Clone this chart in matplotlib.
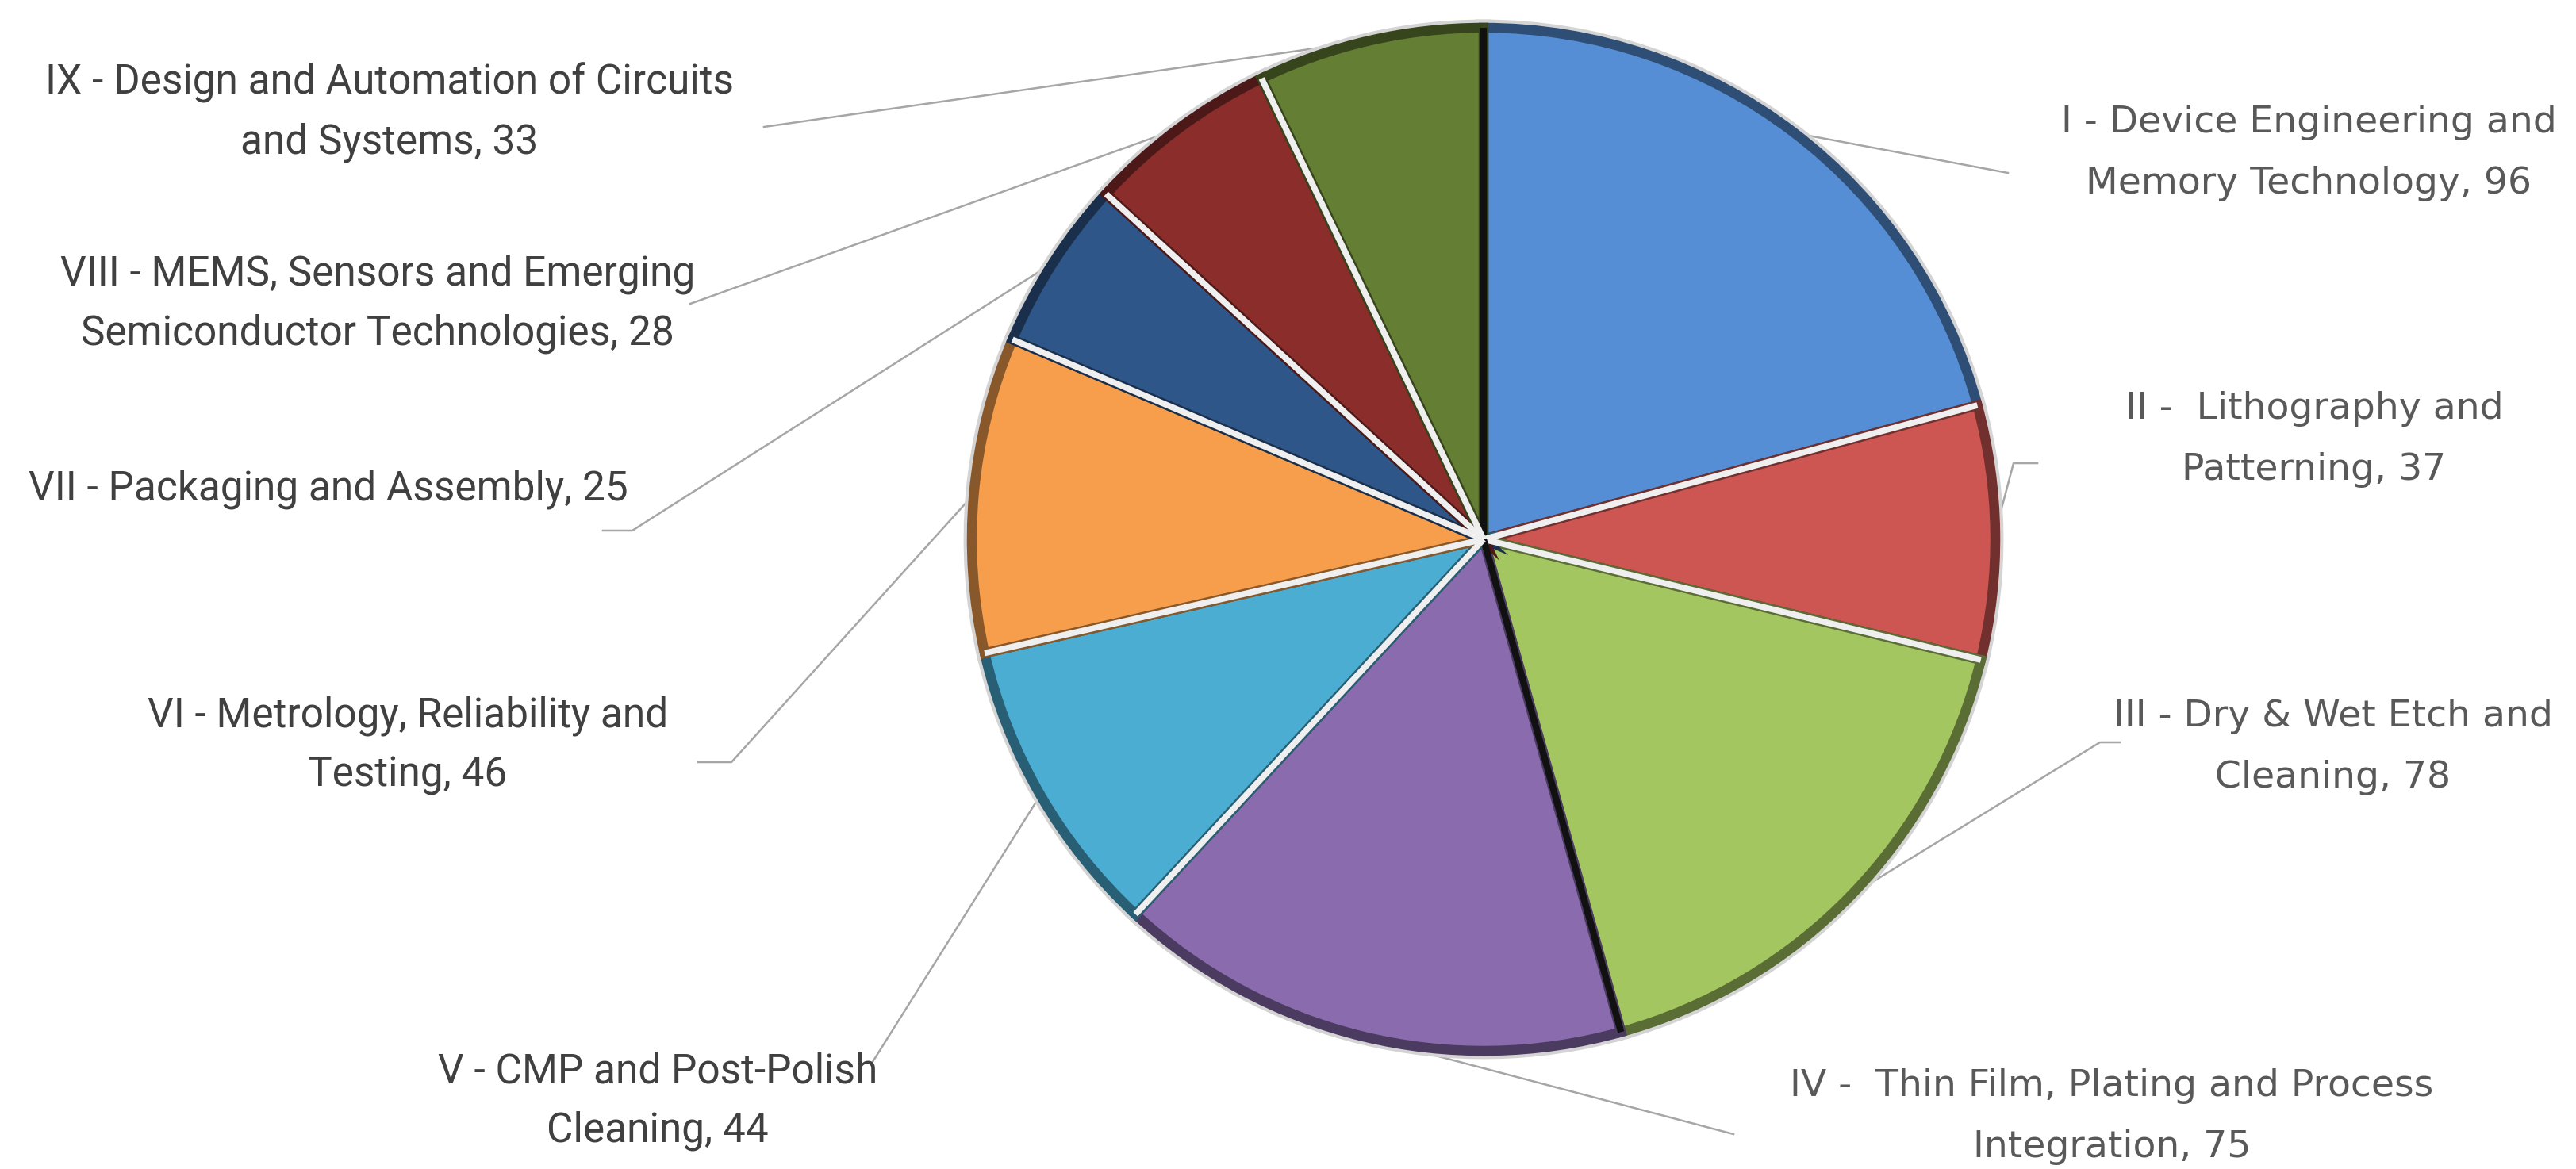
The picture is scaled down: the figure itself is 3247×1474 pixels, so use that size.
import matplotlib
matplotlib.use("Agg")
import numpy as np
from matplotlib import pyplot as plt
from matplotlib import font_manager
from matplotlib import colors as mcolors

# data (clockwise from 12 o'clock)
tracks = ["I - Device Engineering and\nMemory Technology",
          "II -  Lithography and\nPatterning",
          "III - Dry & Wet Etch and\nCleaning",
          "IV -  Thin Film, Plating and Process\nIntegration",
          "V - CMP and Post-Polish\nCleaning",
          "VI - Metrology, Reliability and\nTesting",
          "VII - Packaging and Assembly",
          "VIII - MEMS, Sensors and Emerging\nSemiconductor Technologies",
          "IX - Design and Automation of Circuits\nand Systems"]
papers = [96, 37, 78, 75, 44, 46, 25, 28, 33]
slice_colors = ["#558ED5", "#CD5652", "#A3C660", "#8A6BAE", "#4BADD2",
                "#F79E4C", "#2E5688", "#8A2D2B", "#647E33"]

# label layout, in pixels from top-left of the picture
label_xy = [(2910, 193), (2917, 554), (2941, 942), (2662, 1408), (829, 1389),
            (514, 940), (414, 617), (476, 383), (491, 142)]
elbow_xy = [(2531, 218), (2538, 584), (2647, 936), (2185, 1430), (1098, 1342),
            (922, 961), (797, 669), (870, 383), (963, 160)]
tail_xy = [None, (2568, 584), (2672, 936), None, None,
           (880, 961), (760, 669), None, None]
left_side = [False, False, False, False, True, True, True, True, True]
# slice edges that carry a dark drop shadow instead of a light gap
shadow_edges = [0, 3]

W, H = 3248, 1474
cx, cy, r = 1870, H - 680, 645


def pick_font(names):
    for n in names:
        try:
            font_manager.findfont(n, fallback_to_default=False)
            return n
        except Exception:
            pass
    return "DejaVu Sans"


narrow_font = pick_font(["Liberation Sans Narrow", "Roboto", "Open Sans"])
wide_font = pick_font(["DejaVu Sans"])


def shade(c, f):
    rgb = np.array(mcolors.to_rgb(c))
    return tuple(rgb * f)


fig = plt.figure(figsize=(W / 100, H / 100), dpi=100)
ax = fig.add_axes([0, 0, 1, 1])

# soft grey halo behind the pie
ax.pie(papers, center=(cx, cy), radius=r, startangle=90, counterclock=False,
       colors=["#cfcfcf"] * len(papers),
       wedgeprops=dict(edgecolor="#d4d4d4", linewidth=15), frame=True)

# slices with a darker bevel rim
wedges, _ = ax.pie(papers, center=(cx, cy), radius=r, startangle=90,
                   counterclock=False, colors=slice_colors,
                   wedgeprops=dict(linewidth=9, joinstyle="miter"), frame=True)
for w, c in zip(wedges, slice_colors):
    w.set_edgecolor(shade(c, 0.55))

# light gaps / dark shadows along the slice boundaries
for i, w in enumerate(wedges):
    a = np.deg2rad(w.theta2)
    wx, wy = w.center
    if i in shadow_edges:
        col, lw = "#111111", 6
    else:
        col, lw = "#efefef", 5.5
    ax.plot([wx, wx + w.r * np.cos(a)], [wy, wy + w.r * np.sin(a)],
            color=col, lw=lw, solid_capstyle="butt", zorder=3)

# leader lines + labels
for i, w in enumerate(wedges):
    mid = np.deg2rad((w.theta1 + w.theta2) / 2)
    wx, wy = w.center
    sx = wx + w.r * np.cos(mid)
    sy = wy + w.r * np.sin(mid)
    xs = [sx, elbow_xy[i][0]]
    ys = [sy, H - elbow_xy[i][1]]
    if tail_xy[i] is not None:
        xs.append(tail_xy[i][0])
        ys.append(H - tail_xy[i][1])
    ax.plot(xs, ys, color="#a6a6a6", lw=1.8, zorder=0.5)

    txt = tracks[i] + ", " + str(papers[i])
    if left_side[i]:
        ax.text(label_xy[i][0], H - label_xy[i][1], txt, ha="center", va="center",
                fontsize=37, family=narrow_font, color="#404040", linespacing=1.62)
    else:
        ax.text(label_xy[i][0], H - label_xy[i][1], txt, ha="center", va="center",
                fontsize=34, family=wide_font, color="#595959", linespacing=1.9)

ax.set_xlim(0, W)
ax.set_ylim(0, H)
ax.set_aspect("equal")
ax.axis("off")

fig.savefig("out.png", dpi=100, facecolor="white")
